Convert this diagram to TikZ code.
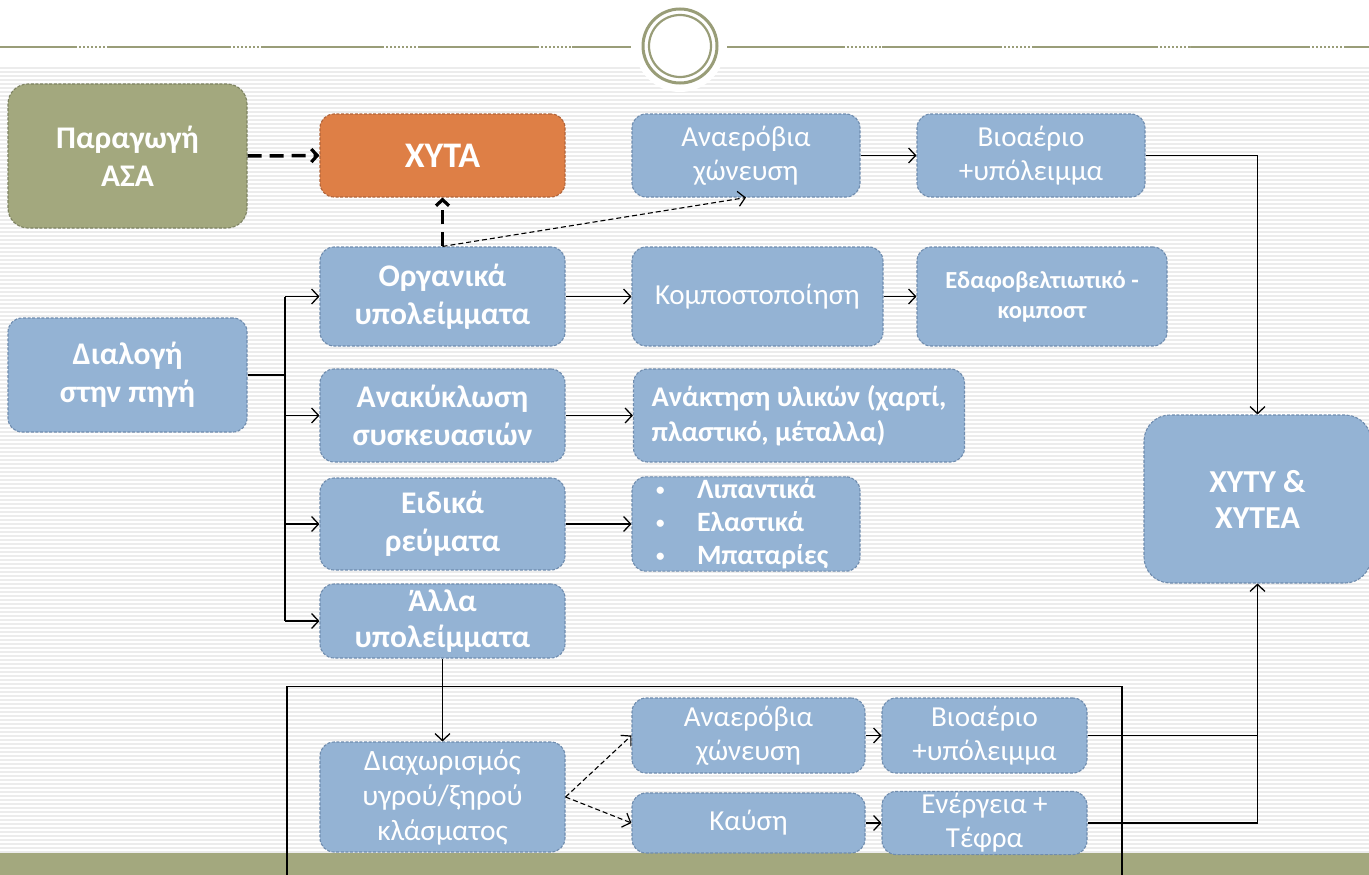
\documentclass[tikz,border=0pt]{standalone}
\usepackage{fontspec}
\setmainfont{Carlito}
\usetikzlibrary{arrows.meta}
\definecolor{boxblue}{HTML}{94B3D4}
\definecolor{boxedge}{HTML}{6F8CAE}
\definecolor{olivebox}{HTML}{A3A87E}
\definecolor{oliveedge}{HTML}{7E8362}
\definecolor{orangebox}{HTML}{DE7F46}
\definecolor{orangeedge}{HTML}{B0643A}
\definecolor{headline}{HTML}{999D78}
\definecolor{stripebg}{HTML}{ECECEC}
\newcommand\fontBig{\fontsize{31.5}{38}\selectfont\bfseries}
\newcommand\fontReg{\fontsize{29}{34}\selectfont}
\newcommand\fontMid{\fontsize{28.5}{35}\selectfont\bfseries}
\newcommand\bul{\makebox[41pt][l]{\raisebox{3pt}{\fontsize{17}{17}\selectfont•}}}
\tikzset{
  bx/.style={rounded corners=14pt, fill=boxblue, draw=boxedge, line width=1.1pt,
    dash pattern=on 3pt off 1.6pt, text=white, align=center, inner sep=2pt},
  arr/.style={line width=1.2pt, -{Straight Barb[length=7pt,width=15pt,line width=1.3pt]}},
  plain/.style={line width=1.2pt},
  thindash/.style={line width=1.1pt, dash pattern=on 5pt off 3pt, -{Straight Barb[length=7pt,width=15pt,line width=1.2pt]}},
  thickdash/.style={line width=3.5pt, dash pattern=on 14pt off 8pt, -{Straight Barb[length=6pt,width=13pt,line width=3.2pt]}},
  lightseg/.style={white, line width=2.2pt, dash pattern=on 2pt off 2pt},
}
\begin{document}
\begin{tikzpicture}[x=1pt,y=-1pt]
\useasboundingbox (0,0) rectangle (1369,875);
% background
\fill[white] (0,0) rectangle (1369,875);
\fill[stripebg] (0,65) rectangle (1369,853);
\foreach \yy in {66,70,...,852} { \draw[white, line width=1.4pt] (0,\yy) -- (1369,\yy); }
% header
\fill[white] (680,47) circle (45);
\draw[headline, line width=2pt] (0,47) -- (631,47);
\draw[headline, line width=2pt] (727,47) -- (1369,47);
\foreach \a/\b in {77/107,231/262,384/419,539/572,845/882,1002/1033,1158/1190,1310/1345}
  { \draw[lightseg] (\a,47) -- (\b,47); }
\draw[headline, line width=3pt] (680,46) circle (37);
\draw[headline, line width=2.2pt] (680,46) circle (31);
% bottom bar
\fill[olivebox] (0,853) rectangle (1369,875);

% nodes
\node[bx, fill=olivebox, draw=oliveedge, rounded corners=20pt, minimum width=239pt, minimum height=144pt, font=\fontBig] (asa) at (127.5,156) {Παραγωγή\\ΑΣΑ};
\node[bx, fill=orangebox, draw=orangeedge, minimum width=245pt, minimum height=83pt, font=\fontsize{36}{40}\selectfont\bfseries] (xyta) at (442.5,155.5) {ΧΥΤΑ};
\node[bx, minimum width=228pt, minimum height=83pt, font=\fontReg] (ana1) at (746,155.5) {Αναερόβια\\χώνευση};
\node[bx, minimum width=228pt, minimum height=83pt, font=\fontReg] (bio1) at (1031,155.5) {Βιοαέριο\\+υπόλειμμα};
\node[bx, minimum width=245pt, minimum height=99pt, font=\fontBig] (org) at (442.5,296.5) {Οργανικά\\υπολείμματα};
\node[bx, minimum width=251pt, minimum height=99pt, font=\fontReg] (komp) at (757.5,296.5) {Κομποστοποίηση};
\node[bx, minimum width=250pt, minimum height=99pt, font=\fontsize{24.5}{30}\selectfont\bfseries] (edaf) at (1042,296.5) {Εδαφοβελτιωτικό -\\κομποστ};
\node[bx, minimum width=239pt, minimum height=114pt, font=\fontBig] (dial) at (127.5,375) {Διαλογή\\στην πηγή};
\node[bx, minimum width=245pt, minimum height=93pt, font=\fontBig] (anak) at (442.5,415.5) {Ανακύκλωση\\συσκευασιών};
\node[bx, minimum width=331pt, minimum height=93pt, font=\fontMid, align=left] (anakt) at (799,415.5) {Ανάκτηση υλικών (χαρτί,\\πλαστικό, μέταλλα)};
\node[bx, minimum width=245pt, minimum height=92pt, font=\fontBig] (eid) at (442.5,524) {Ειδικά\\ρεύματα};
\node[bx, minimum width=228pt, minimum height=92pt, text width=180pt, align=left, font=\fontsize{28}{33}\selectfont\bfseries] (bull) at (746,524) {\bul Λιπαντικά\\\bul Ελαστικά\\\bul Μπαταρίες};
\node[bx, minimum width=245pt, minimum height=74pt, font=\fontsize{31.5}{36}\selectfont\bfseries] (alla) at (442.5,621) {Άλλα\\υπολείμματα};
\node[bx, rounded corners=26pt, minimum width=227pt, minimum height=168pt, font=\fontsize{32}{36}\selectfont\bfseries] (xyty) at (1257.5,499) {ΧΥΤΥ \&\\ΧΥΤΕΑ};
\node[bx, minimum width=245pt, minimum height=110pt, font=\fontsize{29.5}{35}\selectfont] (diax) at (442.5,797) {Διαχωρισμός\\υγρού/ξηρού\\κλάσματος};
\node[bx, minimum width=233pt, minimum height=75pt, font=\fontReg] (ana2) at (748.5,735.5) {Αναερόβια\\χώνευση};
\node[bx, minimum width=205pt, minimum height=75pt, font=\fontReg] (bio2) at (984.5,735.5) {Βιοαέριο\\+υπόλειμμα};
\node[bx, minimum width=233pt, minimum height=60pt, font=\fontReg] (kaus) at (748.5,823) {Καύση};
\node[bx, minimum width=205pt, minimum height=60pt, font=\fontReg] (ener) at (984.5,823) {Ενέργεια +\\Τέφρα};

% frame
\draw[line width=1.1pt] (287,875) -- (287,686.5) -- (1122,686.5) -- (1122,875);

% connectors
\draw[thickdash] (asa.east) -- (xyta.west);
\draw[thickdash] (org.north) -- (xyta.south);
\draw[thindash] (org.north) -- (ana1.south);
\draw[arr] (ana1.east) -- (bio1.west);
\draw[arr] (bio1.east) -| (xyty.north);
\draw[arr] (org.east) -- (komp.west);
\draw[arr] (komp.east) -- (edaf.west);
\coordinate (br) at (285,375);
\draw[plain] (dial.east) -- (br);
\draw[plain] (br |- org.west) -- (br |- alla.west);
\draw[arr] (br |- org.west) -- (org.west);
\draw[arr] (br |- anak.west) -- (anak.west);
\draw[arr] (br |- eid.west) -- (eid.west);
\draw[arr] (br |- alla.west) -- (alla.west);
\draw[arr] (anak.east) -- (anakt.west);
\draw[arr] (eid.east) -- (bull.west);
\draw[arr] (alla.south) -- (diax.north);
\draw[thindash] (diax.east) -- (ana2.west);
\draw[thindash] (diax.east) -- (kaus.west);
\draw[arr] (ana2.east) -- (bio2.west);
\draw[arr] (kaus.east) -- (ener.west);
\draw[plain] (bio2.east) -| (xyty.south);
\draw[arr] (ener.east) -| (xyty.south);
\end{tikzpicture}
\end{document}
